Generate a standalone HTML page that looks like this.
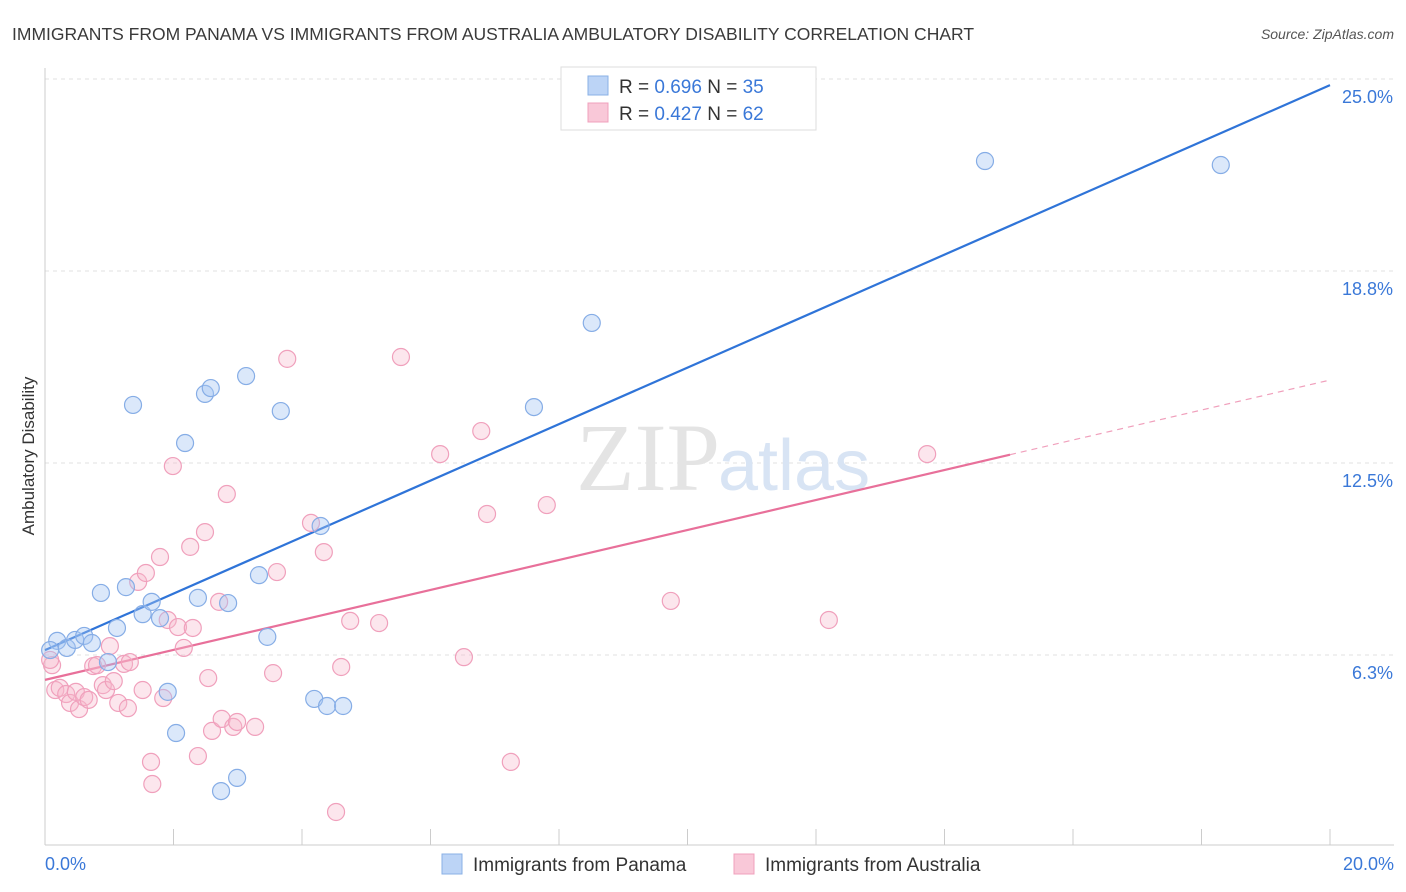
<!DOCTYPE html>
<html><head><meta charset="utf-8"><style>
body{margin:0;background:#fff;font-family:"Liberation Sans",sans-serif;}
svg{display:block}
</style></head><body>
<svg id="chart" width="1406" height="892">
<text x="12" y="40" font-size="17.5" fill="#3a3a3a">IMMIGRANTS FROM PANAMA VS IMMIGRANTS FROM AUSTRALIA AMBULATORY DISABILITY CORRELATION CHART</text>
<text x="1394" y="39" font-size="14" fill="#555" font-style="italic" text-anchor="end">Source: ZipAtlas.com</text>
<text transform="translate(34,456) rotate(-90)" font-size="17" fill="#333" text-anchor="middle">Ambulatory Disability</text>
<g id="grid"></g>
<text x="720" y="490" font-size="96" fill="#e4e4e4" text-anchor="end" font-family="Liberation Serif,serif">ZIP</text>
<text x="718" y="490" font-size="72" fill="#d8e4f4">atlas</text>
<g id="lines"></g>
<g id="points"></g>
<g>
<rect x="561" y="67" width="255" height="63" fill="#fff" stroke="#ddd"/>
<rect x="588" y="76" width="20" height="19" fill="#bcd4f6" stroke="#8ab0e6"/>
<rect x="588" y="103" width="20" height="19" fill="#f9c8d8" stroke="#f0a0bc"/>
<text x="619" y="93" font-size="19" fill="#333">R = <tspan fill="#3a78d8">0.696</tspan>   N = <tspan fill="#3a78d8">35</tspan></text>
<text x="619" y="120" font-size="19" fill="#333">R = <tspan fill="#3a78d8">0.427</tspan>   N = <tspan fill="#3a78d8">62</tspan></text>
</g>
<g>
<rect x="442" y="854" width="20" height="20" fill="#bcd4f6" stroke="#8ab0e6"/>
<text x="473" y="871" font-size="19" fill="#333">Immigrants from Panama</text>
<rect x="734" y="854" width="20" height="20" fill="#f9c8d8" stroke="#f0a0bc"/>
<text x="765" y="871" font-size="19" fill="#333">Immigrants from Australia</text>
</g>
<text x="45" y="870" font-size="18" fill="#3a78d8">0.0%</text>
<text x="1394" y="870" font-size="18" fill="#3a78d8" text-anchor="end">20.0%</text>
</svg>
<script>
const yTicks=[6.3,12.5,18.8,25.0];
const yTickValues=[6.25,12.5,18.75,25];
const panamaX=[0.19,0.34,0.47,0.61,0.73,0.87,0.98,1.12,1.26,1.37,1.52,1.66,1.79,1.91,2.04,2.18,2.38,2.49,2.58,2.74,2.85,2.99,3.13,3.33,3.46,3.67,4.19,4.29,4.39,4.64,7.61,8.51,14.63,18.30,0.08];
const panamaY=[6.71,6.48,6.74,6.87,6.64,8.27,6.02,7.13,8.46,14.39,7.58,7.98,7.45,5.05,3.71,13.15,8.11,14.75,14.94,1.82,7.94,2.25,15.33,8.85,6.84,14.19,4.82,10.45,4.59,4.59,14.32,17.06,22.33,22.20,6.41];
const ausX=[0.11,0.16,0.23,0.33,0.39,0.48,0.53,0.61,0.68,0.75,0.81,0.90,0.95,1.01,1.07,1.14,1.23,1.29,1.32,1.45,1.52,1.57,1.65,1.67,1.79,1.84,1.91,1.99,2.07,2.16,2.26,2.30,2.38,2.49,2.54,2.60,2.71,2.75,2.83,2.93,2.99,3.27,3.55,3.61,3.77,4.14,4.34,4.53,4.61,4.75,5.20,5.54,6.15,6.52,6.79,6.88,7.25,7.81,9.74,12.20,13.73,0.08];
const ausY=[5.92,5.11,5.18,4.98,4.69,5.05,4.49,4.88,4.79,5.89,5.92,5.27,5.11,6.54,5.40,4.69,5.96,4.52,6.02,8.63,5.11,8.92,2.77,2.05,9.44,4.85,7.39,12.40,7.16,6.48,9.77,7.13,2.96,10.25,5.50,3.78,7.98,4.17,11.49,3.91,4.07,3.91,5.66,8.95,15.89,10.55,9.60,1.14,5.86,7.36,7.29,15.95,12.79,6.18,13.54,10.84,2.77,11.13,8.01,7.39,12.79,6.09];
const panamaTrend=[6.41,24.8];
const ausTrend=[5.44,15.2];
const ausSolidEnd=15.02;
const X=v=>45+v/20*1285, Y=v=>847-v/6.25*192;
const NS="http://www.w3.org/2000/svg";
function mk(t,a,p){const e=document.createElementNS(NS,t);for(const k in a)e.setAttribute(k,a[k]);p.appendChild(e);return e;}
const grid=document.getElementById('grid');
yTickValues.forEach((v,i)=>{
 const l=mk('line',{x1:45,x2:1394,y1:Y(v),y2:Y(v),stroke:'#e0e0e0','stroke-dasharray':'4,4'},grid);
 
 
 const t=mk('text',{x:1393,y:Y(v)+24,'font-size':18,fill:'#3a78d8','text-anchor':'end'},grid);
 t.textContent=yTicks[i].toFixed(1)+'%';
 
 
});
const ax=mk('line',{x1:45,x2:1394,y1:845,y2:845,stroke:'#ccc'},grid);


const ay=mk('line',{x1:45,x2:45,y1:68,y2:845,stroke:'#ccc'},grid);


for(let i=1;i<=10;i++){const tk=mk('line',{x1:X(i*2),x2:X(i*2),y1:829,y2:845,stroke:'#ccc'},grid);
 
 }
const pts=document.getElementById('points');
ausX.forEach((x,i)=>{const c=mk('circle',{cx:X(x),cy:Y(ausY[i]),r:8.5,fill:'rgba(246,182,204,0.35)',stroke:'#f0a0bc','stroke-width':1.2},pts);
 
 });
panamaX.forEach((x,i)=>{const c=mk('circle',{cx:X(x),cy:Y(panamaY[i]),r:8.5,fill:'rgba(165,198,242,0.4)',stroke:'#86ade6','stroke-width':1.2},pts);
 
 });
const lines=document.getElementById('lines');
const bl=mk('line',{x1:X(0),y1:Y(panamaTrend[0]),x2:X(20),y2:Y(panamaTrend[1]),stroke:'#2f74d8','stroke-width':2.2},lines);


const ay2=ausTrend[0]+(ausTrend[1]-ausTrend[0])*ausSolidEnd/20;
const pl=mk('line',{x1:X(0),y1:Y(ausTrend[0]),x2:X(ausSolidEnd),y2:Y(ay2),stroke:'#e8709a','stroke-width':2.2},lines);


const pd=mk('line',{x1:X(ausSolidEnd),y1:Y(ay2),x2:X(20),y2:Y(ausTrend[1]),stroke:'#f0a0bc','stroke-width':1.2,'stroke-dasharray':'6,5'},lines);


</script>
</body></html>
